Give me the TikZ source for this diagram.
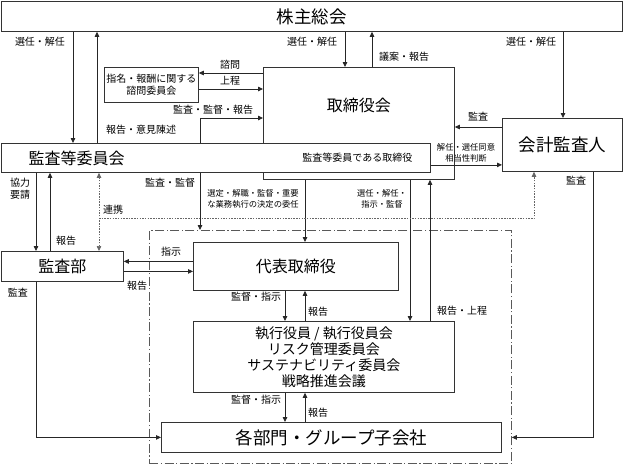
\documentclass[tikz,border=0pt]{standalone}
\usepackage{fontspec}
\setmainfont{Noto Sans CJK JP}
\usetikzlibrary{arrows.meta}
\newcommand\jpXL{\fontsize{17.5pt}{20pt}\selectfont}
\newcommand\jpL{\fontsize{16pt}{18pt}\selectfont}
\newcommand\jpM{\fontsize{14pt}{16pt}\selectfont}
\newcommand\jpS{\fontsize{10pt}{12pt}\selectfont}
\newcommand\jpT{\fontsize{8.3pt}{11.5pt}\selectfont}
\tikzset{box/.style={draw=black!80,line width=0.8pt,fill=white,inner sep=0pt,anchor=north west,align=center},
         note/.style={font=\jpS,inner sep=0pt,align=center},
         tnote/.style={font=\jpT,inner sep=0pt,align=center},
         link/.style={black!85,line width=0.8pt},
         >={Triangle[length=5pt,width=4.5pt]}}
\begin{document}
\begin{tikzpicture}[x=1pt,y=-1pt]
        \useasboundingbox (0,0) rectangle (624,464);
        % boxes
        \node[draw=black!65,line width=0.8pt,dash pattern=on 9pt off 2.5pt on 1.2pt off 2.5pt,
              anchor=north west,inner sep=0pt,minimum width=362pt,minimum height=233pt](grp)at(149,230){};
        \node[box,font=\jpXL,minimum width=621pt,minimum height=30pt](kabu)at(1,1){株主総会};
        \node[box,font=\jpS,minimum width=94pt,minimum height=35pt](shimon)at(104,67){指名・報酬に関する\\諮問委員会};
        \node[box,minimum width=191pt,minimum height=112pt,
              label={[font=\jpL,anchor=center,yshift=18pt]center:取締役会}](tori)at(263,67){};
        \node[box,minimum width=429pt,minimum height=29pt,
              label={[font=\jpL,anchor=west,xshift=24pt]west:監査等委員会},
              label={[font=\jpS,anchor=east,xshift=-15pt]east:監査等委員である取締役}](kiin)at(1,143){};
        \node[box,font=\jpXL,minimum width=120pt,minimum height=53pt](kaikei)at(502,118){会計監査人};
        \node[box,font=\jpL,minimum width=122pt,minimum height=30pt](kbu)at(1,251){監査部};
        \node[box,font=\jpL,minimum width=205pt,minimum height=48pt](daihyo)at(193,242){代表取締役};
        \node[box,font=\jpM,minimum width=261pt,minimum height=71pt](shikko)at(193,321){執行役員 / 執行役員会\\リスク管理委員会\\サステナビリティ委員会\\戦略推進会議};
        \node[box,font=\jpXL,minimum width=340pt,minimum height=30pt](kakubu)at(161,422){各部門・グループ子会社};

        % shareholders
        \draw[link,->]([xshift=72pt]kabu.south west)--([xshift=72pt]kiin.north west);
        \draw[link,->]([xshift=96pt]kiin.north west)--([xshift=96pt]kabu.south west);
        \draw[link,->]([xshift=82pt]tori.north west |- kabu.south)--([xshift=82pt]tori.north west);
        \draw[link,->]([xshift=109pt]tori.north west)--([xshift=109pt]tori.north west |- kabu.south);
        \draw[link,->]([xshift=61pt]kaikei.north west |- kabu.south)--([xshift=61pt]kaikei.north west);
        \node[note](l1)at(40,42){選任・解任};
        \node[note](l2)at(312,42){選任・解任};
        \node[note](l3)at(404,57){議案・報告};
        \node[note](l4)at(531,42){選任・解任};

        % board
        \draw[link,->]([yshift=-6pt]tori.north west)--([yshift=-6pt]tori.north west -| shimon.east);
        \draw[link,->]([yshift=-22pt]tori.north west -| shimon.east)--([yshift=-22pt]tori.north west);
        \draw[link,->]([xshift=199pt]kiin.north west)|-([yshift=-51pt]tori.north west);
        \draw[link,->]([yshift=-60pt]tori.north east -| kaikei.west)--([yshift=-60pt]tori.north east);
        \draw[link,->]([yshift=-7pt]kiin.east)--([yshift=-7pt]kiin.east -| kaikei.west);
        \node[note](l5)at(230,65){諮問};
        \node[note](l6)at(230,81){上程};
        \node[note](l7)at(213,110){監査・監督・報告};
        \node[note](l8)at(141,130){報告・意見陳述};
        \node[note](l9)at(478,117){監査};
        \node[tnote](l10)at(466,153){解任・選任同意\\相当性判断};

        % downwards
        \draw[link,->]([xshift=199pt]kiin.south west)--([xshift=199pt]kiin.south west |- grp.north);
        \draw[link,->]([xshift=42pt]tori.south west)--([xshift=42pt]tori.south west |- daihyo.north);
        \draw[link,->]([xshift=147pt]tori.south west)--([xshift=147pt]tori.south west |- shikko.north);
        \draw[link,->]([xshift=167pt]tori.south west |- shikko.north)--([xshift=167pt]tori.south west);
        \node[note](l11)at(170,183){監査・監督};
        \node[tnote](l12)at(253,199){選定・解職・監督・重要\\な業務執行の決定の委任};
        \node[tnote](l13)at(382,199){選任・解任・\\指示・監督};
        \node[note](l14)at(462,311){報告・上程};

        % audit department
        \draw[link,->]([xshift=35pt]kiin.south west)--([xshift=35pt]kbu.north west);
        \draw[link,->]([xshift=49pt]kbu.north west)--([xshift=49pt]kiin.south west);
        \draw[black!60,line width=0.7pt,dash pattern=on 1.5pt off 1.2pt,<->]([xshift=98pt]kbu.north west)--([xshift=98pt]kiin.south west);
        \draw[black!60,line width=0.7pt,dash pattern=on 1.5pt off 1.2pt,->]([xshift=98pt,yshift=-46pt]kiin.south west)-|([xshift=32pt]kaikei.south west);
        \draw[link,->]([yshift=5pt]daihyo.west)--([yshift=5pt]daihyo.west -| kbu.east);
        \draw[link,->]([yshift=-5pt]kbu.east)--([yshift=-5pt]kbu.east -| daihyo.west);
        \draw[link,->]([xshift=35pt]kbu.south west)|-(kakubu.west);
        \draw[link,->]([xshift=91pt]kaikei.south west)|-(kakubu.west -| grp.east);
        \node[note,align=center](l15)at(20,189){協力\\要請};
        \node[note](l16)at(66,241){報告};
        \node[note](l17)at(113,210){連携};
        \node[note](l18)at(171,252){指示};
        \node[note](l19)at(137,286){報告};
        \node[note](l20)at(18,293){監査};
        \node[note](l21)at(576,181){監査};

        % execution
        \draw[link,->]([xshift=92pt]daihyo.south west)--([xshift=92pt]shikko.north west);
        \draw[link,->]([xshift=112pt]shikko.north west)--([xshift=112pt]daihyo.south west);
        \draw[link,->]([xshift=92pt]shikko.south west)--([xshift=92pt]shikko.south west |- kakubu.north);
        \draw[link,->]([xshift=112pt]shikko.south west |- kakubu.north)--([xshift=112pt]shikko.south west);
        \node[note](l22)at(256,297){監督・指示};
        \node[note](l23)at(318,312){報告};
        \node[note](l24)at(256,400){監督・指示};
        \node[note](l25)at(318,413){報告};
    \end{tikzpicture}
\end{document}
